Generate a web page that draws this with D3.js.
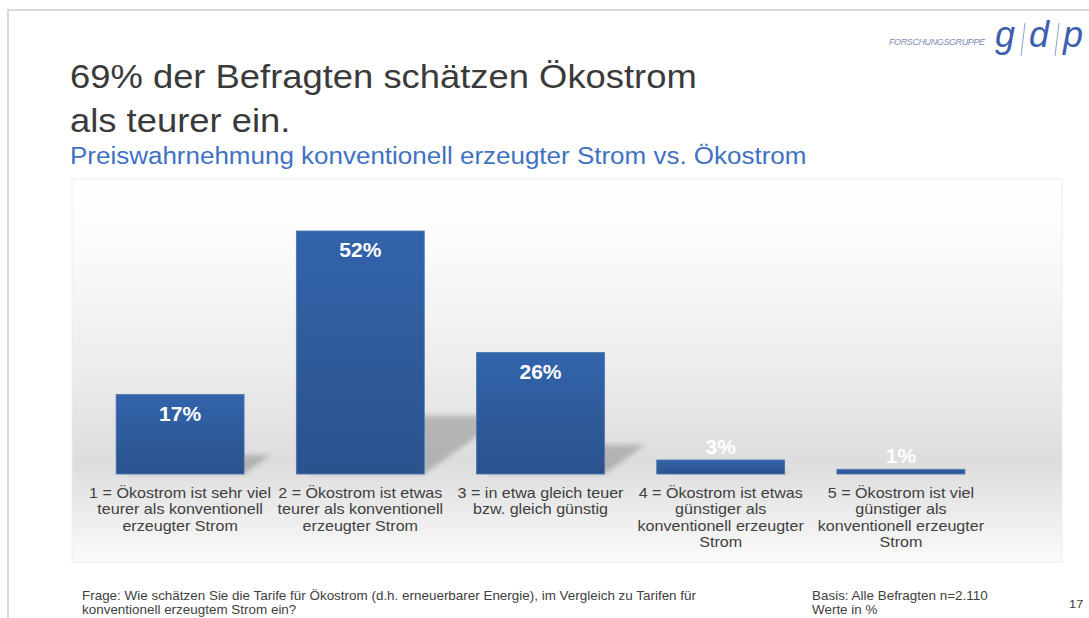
<!DOCTYPE html>
<html>
<head>
<meta charset="utf-8">
<script src="https://cdn.jsdelivr.net/npm/d3@7"></script>
<style>
  body { margin: 0; background: #fff; }
  svg { display: block; font-family: "Liberation Sans", Arial, sans-serif; }
</style>
</head>
<body>
<svg id="chart" width="1089" height="618"></svg>
<script>
// data
var categories = ['1', '2', '3', '4', '5'];
var values = [17, 52, 26, 3, 1];
var categoryLabels = [
    ['1 = Ökostrom ist sehr viel', 'teurer als konventionell', 'erzeugter Strom'],
    ['2 = Ökostrom ist etwas', 'teurer als konventionell', 'erzeugter Strom'],
    ['3 = in etwa gleich teuer', 'bzw. gleich günstig'],
    ['4 = Ökostrom ist etwas', 'günstiger als', 'konventionell erzeugter', 'Strom'],
    ['5 = Ökostrom ist viel', 'günstiger als', 'konventionell erzeugter', 'Strom']
];
var titleLines = ['69% der Befragten schätzen Ökostrom', 'als teurer ein.'];
var subtitle = 'Preiswahrnehmung konventionell erzeugter Strom vs. Ökostrom';
var footerQuestion = ['Frage: Wie schätzen  Sie die Tarife für Ökostrom (d.h. erneuerbarer Energie), im Vergleich zu Tarifen für',
    'konventionell  erzeugtem Strom ein?'];
var footerBase = ['Basis: Alle Befragten n=2.110', 'Werte in %'];
var pageNumber = '17';

var svg = d3.select('#chart');
var defs = svg.append('defs');

//the slide is a bit stretched sideways, so text gets a horizontal scale
function place(x, y, sx) {
    return 'translate(' + x + ',' + y + ') scale(' + sx + ',1)';
}

//gradients
var panelGrad = defs.append('linearGradient')
    .attr('id', 'panelGrad')
    .attr('x1', 0).attr('y1', 0).attr('x2', 0).attr('y2', 1);
[[0, '#ffffff'], [0.15, '#fcfcfc'], [0.5, '#ececec'], [0.74, '#dddddd'], [0.85, '#e9e9e9'], [1, '#fbfbfb']]
    .forEach(function(s) {
        panelGrad.append('stop').attr('offset', s[0]).attr('stop-color', s[1]);
    });

var barGrad = defs.append('linearGradient')
    .attr('id', 'barGrad')
    .attr('x1', 0).attr('y1', 0).attr('x2', 0).attr('y2', 1);
barGrad.append('stop').attr('offset', 0).attr('stop-color', '#3264ab');
barGrad.append('stop').attr('offset', 1).attr('stop-color', '#2a528d');

defs.append('filter')
    .attr('id', 'blur')
    .attr('x', '-20%').attr('y', '-20%').attr('width', '140%').attr('height', '140%')
    .append('feGaussianBlur')
    .attr('stdDeviation', 2.5);

//slide frame
svg.append('rect')
    .attr('x', 8).attr('y', 10)
    .attr('width', 1100).attr('height', 640)
    .attr('fill', 'none')
    .attr('stroke', '#d9d9d9')
    .attr('stroke-width', 2);

//logo
var logo = svg.append('g').attr('class', 'logo');
logo.append('text')
    .attr('x', 889).attr('y', 45)
    .attr('font-size', 9)
    .attr('font-style', 'italic')
    .attr('fill', '#7c8db3')
    .attr('letter-spacing', -0.4)
    .text('FORSCHUNGSGRUPPE');
['g', 'd', 'p'].forEach(function(ch, i) {
    logo.append('text')
        .attr('x', 995 + i * 34).attr('y', 47)
        .attr('font-size', 36)
        .attr('font-style', 'italic')
        .attr('fill', '#3d5fae')
        .text(ch);
    if (i < 2) {
        logo.append('line')
            .attr('x1', 1021 + i * 34).attr('x2', 1025 + i * 34)
            .attr('y1', 56).attr('y2', 23)
            .attr('stroke', '#8ea1cc')
            .attr('stroke-width', 1);
    }
});

//titles
svg.append('g')
    .selectAll('text')
    .data(titleLines)
    .join('text')
    .attr('transform', function(d, i) { return place(70, 87.5 + i * 44, 1.07); })
    .attr('font-size', 34)
    .attr('fill', '#3a3a3a')
    .text(function(d) { return d; });

svg.append('text')
    .attr('transform', place(70, 163.5, 1.13))
    .attr('font-size', 23)
    .attr('fill', '#3f72c2')
    .text(subtitle);

//chart panel
svg.append('rect')
    .attr('x', 72).attr('y', 179)
    .attr('width', 990).attr('height', 383)
    .attr('fill', 'url(#panelGrad)')
    .attr('stroke', '#ececec')
    .attr('stroke-width', 1);

var x = d3.scaleBand()
    .domain(categories)
    .range([90, 991])
    .paddingInner(0.29)
    .paddingOuter(0.145);

var y = d3.scaleLinear()
    .domain([0, d3.max(values)])
    .range([474, 231]);

var data = categories.map(function(c, i) {
    return {cat: c, value: values[i], label: categoryLabels[i]};
});

//shadows cast behind bars
svg.append('g')
    .attr('class', 'shadows')
    .selectAll('path')
    .data(data)
    .join('path')
    .attr('d', function(d) {
        var x0 = x(d.cat), x1 = x(d.cat) + x.bandwidth();
        var h = (y(0) - y(d.value)) * 0.24;
        var dx = h * 1.4;
        return 'M' + (x0 + 10) + ',' + y(0) +
            'L' + x1 + ',' + y(0) +
            'L' + (x1 + dx) + ',' + (y(0) - h) +
            'L' + (x0 + 10 + dx) + ',' + (y(0) - h) + 'Z';
    })
    .attr('fill', '#8f8f8f')
    .attr('opacity', 0.55)
    .attr('filter', 'url(#blur)');

//bars
svg.append('g')
    .attr('class', 'bars')
    .selectAll('rect')
    .data(data)
    .join('rect')
    .attr('x', function(d) { return x(d.cat); })
    .attr('y', function(d) { return y(d.value); })
    .attr('width', x.bandwidth())
    .attr('height', function(d) { return y(0) - y(d.value); })
    .attr('fill', 'url(#barGrad)')
    .attr('stroke', '#4d74b0')
    .attr('stroke-width', 0.8);

//value labels, inside tall bars and above the flat ones
svg.append('g')
    .attr('class', 'values')
    .selectAll('text')
    .data(data)
    .join('text')
    .attr('x', function(d) { return x(d.cat) + x.bandwidth() / 2; })
    .attr('y', function(d) {
        return d.value > 10 ? y(d.value) + 26 : y(d.value) - 6;
    })
    .attr('text-anchor', 'middle')
    .attr('font-size', 21)
    .attr('font-weight', 'bold')
    .attr('fill', '#ffffff')
    .text(function(d) { return d.value + '%'; });

//category labels
var catText = svg.append('g')
    .attr('class', 'categories')
    .selectAll('text')
    .data(data)
    .join('text')
    .attr('transform', function(d) { return place(x(d.cat) + x.bandwidth() / 2, 498, 1.15); })
    .attr('text-anchor', 'middle')
    .attr('font-size', 14)
    .attr('fill', '#404040');
catText.selectAll('tspan')
    .data(function(d) { return d.label; })
    .join('tspan')
    .attr('x', 0)
    .attr('y', function(d, i) { return i * 16.5; })
    .text(function(d) { return d; });

//footer
var footFont = '"Liberation Sans Narrow", "Arial Narrow", sans-serif';
svg.append('g')
    .selectAll('text')
    .data(footerQuestion)
    .join('text')
    .attr('transform', function(d, i) { return place(82, 600 + i * 14, 1.12); })
    .attr('font-family', footFont)
    .attr('font-size', 12)
    .attr('fill', '#404040')
    .text(function(d) { return d; });

svg.append('g')
    .selectAll('text')
    .data(footerBase)
    .join('text')
    .attr('transform', function(d, i) { return place(812, 600 + i * 14, 1.12); })
    .attr('font-family', footFont)
    .attr('font-size', 12)
    .attr('fill', '#404040')
    .text(function(d) { return d; });

svg.append('text')
    .attr('transform', place(1069, 608, 1.12))
    .attr('font-family', footFont)
    .attr('font-size', 11.5)
    .attr('fill', '#404040')
    .text(pageNumber);
</script>
</body>
</html>
